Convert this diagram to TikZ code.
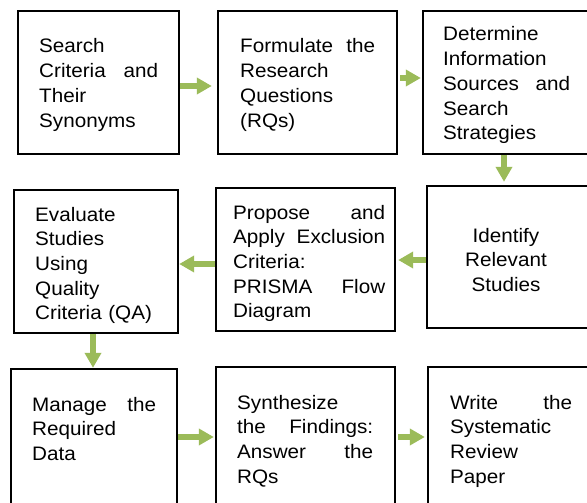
\documentclass[tikz,border=0pt]{standalone}
\usepackage{fontspec}
\setmainfont{Liberation Sans}[FakeStretch=1.06]
\usetikzlibrary{arrows.meta}
\definecolor{arrgreen}{HTML}{9BBB59}
\begin{document}
\begin{tikzpicture}[x=1pt,y=-1pt,
  box/.style={draw=black, line width=2.4pt, rectangle, inner sep=0pt, fill=white},
  txt/.style={inner sep=0pt, anchor=base west, align=left, font=\fontsize{19.5}{24.7}\selectfont},
  flow/.style={draw=arrgreen, line width=5.5pt, -{Triangle[width=16pt,length=15pt]}, arrgreen},
  flowshadow/.style={draw=black, opacity=0.12, line width=6.5pt, -{Triangle[width=17pt,length=16pt]}, black}
  ]
\useasboundingbox (0,0) rectangle (587,503);
\clip (0,0) rectangle (587,503);
% boxes
\node[box, minimum width=161pt, minimum height=143pt] (b1) at (98.5,82.5) {};
\node[box, minimum width=179pt, minimum height=143pt] (b2) at (307.5,82.5) {};
\node[box, minimum width=172pt, minimum height=143pt] (b3) at (509,82.5) {};
\node[box, minimum width=168pt, minimum height=142pt] (b4) at (511,257) {};
\node[box, minimum width=179pt, minimum height=143pt] (b5) at (305.5,259.5) {};
\node[box, minimum width=164pt, minimum height=143pt] (b6) at (96,261.5) {};
\node[box, minimum width=166pt, minimum height=146pt] (b7) at (94,442) {};
\node[box, minimum width=179pt, minimum height=148pt] (b8) at (305.5,441) {};
\node[box, minimum width=167pt, minimum height=148pt] (b9) at (511.5,441) {};
% texts
\node[txt, text width=119pt] (t1) at (39,53) {Search\\Criteria\hfill and\\Their\\Synonyms};
\node[txt, text width=135pt] (t2) at (240,53) {Formulate\hfill the\\Research\\Questions\\(RQs)};
\node[txt, text width=127pt] (t3) at (443,41) {Determine\\Information\\Sources\hfill and\\Search\\Strategies};
\node[txt, text width=150pt, align=center, anchor=base] (t4) at (506,242) {Identify\\Relevant\\Studies};
\node[txt, text width=152pt] (t5) at (233,219) {Propose\hfill and\\Apply\hfill Exclusion\\Criteria:\\PRISMA\hfill Flow\\Diagram};
\node[txt, text width=122pt] (t6) at (35,221) {Evaluate\\Studies\\Using\\Quality\\Criteria (QA)};
\node[txt, text width=124pt] (t7) at (32,411) {Manage\hfill the\\Required\\Data};
\node[txt, text width=136pt] (t8) at (237,409) {Synthesize\\the\hfill Findings:\\Answer\hfill the\\RQs};
\node[txt, text width=122pt] (t9) at (450,409) {Write\hfill the\\Systematic\\Review\\Paper};
% connectors
\draw[flow, shorten >=5pt] ([yshift=-3.5pt]b1.east) -- ([yshift=-3.5pt]b1.east -| b2.west);
\draw[flow, shorten <=2pt, shorten >=1pt] ([yshift=4.5pt]b2.east) -- ([yshift=4.5pt]b2.east -| b3.west);
\draw[flow, shorten >=3pt] ([xshift=-5pt]b3.south) -- ([xshift=-5pt]b3.south |- b4.north);
\draw[flow, shorten >=2pt] ([yshift=-3pt]b4.west) -- ([yshift=-3pt]b4.west -| b5.east);
\draw[flow] ([yshift=-4.5pt]b5.west) -- ([yshift=-4.5pt]b5.west -| b6.east);
\draw[flow] ([xshift=-3pt]b6.south) -- ([xshift=-3pt]b6.south |- b7.north);
\draw[flow, shorten >=1pt] ([yshift=5pt]b7.east) -- ([yshift=5pt]b7.east -| b8.west);
\draw[flow, shorten <=2pt, shorten >=2pt] ([yshift=4pt]b8.east) -- ([yshift=4pt]b8.east -| b9.west);
\end{tikzpicture}
\end{document}
